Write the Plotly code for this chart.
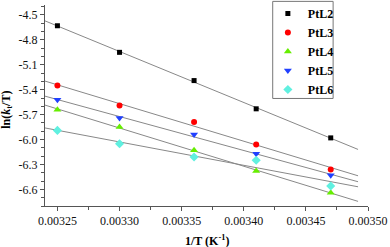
import numpy as np
import plotly.graph_objects as go

inv_T = [0.00325, 0.00330, 0.00336, 0.00341, 0.00347]
series_names = ["PtL2", "PtL3", "PtL4", "PtL5", "PtL6"]
ptl2 = [-4.63, -4.95, -5.29, -5.63, -5.98]
ptl3 = [-5.35, -5.59, -5.79, -6.06, -6.36]
ptl4 = [-5.64, -5.85, -6.13, -6.38, -6.64]
ptl5 = [-5.52, -5.74, -5.94, -6.17, -6.43]
ptl6 = [-5.89, -6.05, -6.21, -6.25, -6.56]
fit_range = [0.00324, 0.003492]

values = [ptl2, ptl3, ptl4, ptl5, ptl6]
colors = ["#000000", "#ff0000", "#66ee00", "#2040ff", "#60f0e0"]
symbols = ["square", "circle", "triangle-up", "triangle-down", "diamond"]
sizes = [5, 6, 7, 7, 7]

fig = go.Figure()
for name, ys in zip(series_names, values):
    m, c = np.polyfit(inv_T, ys, 1)
    xs = np.array(fit_range)
    fig.add_trace(go.Scatter(x=xs, y=m * xs + c, mode="lines",
                             line=dict(color="#888888", width=1),
                             showlegend=False, hoverinfo="skip"))
for name, ys, col, sym, sz in zip(series_names, values, colors, symbols, sizes):
    fig.add_trace(go.Scatter(x=inv_T, y=ys, mode="markers", name=name,
                             marker=dict(color=col, symbol=sym, size=sz, line=dict(width=0))))

serif = "Liberation Serif"
fig.update_layout(
    width=390, height=247,
    margin=dict(l=45, r=22, t=5, b=41, autoexpand=False),
    plot_bgcolor="white", paper_bgcolor="white",
    font=dict(family=serif, size=12, color="#111"),
    showlegend=True,
    legend=dict(x=0.69, y=1.03, xanchor="left", yanchor="top",
                bgcolor="rgba(0,0,0,0)", borderwidth=0,
                font=dict(family=serif, size=12, color="#000", weight="bold"),
                itemsizing="trace", itemwidth=30, tracegroupgap=0),
    shapes=[dict(type="rect", xref="paper", yref="paper",
                 x0=0.705, x1=0.892, y0=0.535, y1=1.018,
                 line=dict(color="#777", width=1))],
    annotations=[
        dict(text="<b>1/T (K<sup>-1</sup>)</b>", xref="paper", yref="paper", x=0.5, y=-0.17,
             xanchor="center", yanchor="middle", showarrow=False,
             font=dict(family=serif, size=12, color="#000")),
        dict(text="<b>ln(<i>k</i><sub>t</sub>/T)</b>", xref="paper", yref="paper", x=-0.12, y=0.48,
             xanchor="center", yanchor="middle", showarrow=False, textangle=-90,
             font=dict(family=serif, size=12, color="#000")),
    ],
)
fig.update_xaxes(range=[0.00324, 0.00350], tickvals=[0.00325, 0.00330, 0.00335, 0.00340, 0.00345, 0.00350],
                 ticktext=["0.00325", "0.00330", "0.00335", "0.00340", "0.00345", "0.00350"],
                 automargin=False,
                 showgrid=False, zeroline=False, showline=True, linecolor="#555", linewidth=1,
                 ticks="outside", ticklen=4, tickcolor="#555",
                 minor=dict(tickvals=[0.003275, 0.003325, 0.003375, 0.003425, 0.003475], ticks="outside", ticklen=3, tickcolor="#555"))
fig.update_yaxes(range=[-6.8, -4.38], tickvals=[-4.5, -4.8, -5.1, -5.4, -5.7, -6.0, -6.3, -6.6],
                 ticktext=["-4.5", "-4.8", "-5.1", "-5.4", "-5.7", "-6.0", "-6.3", "-6.6"],
                 automargin=False,
                 showgrid=False, zeroline=False, showline=True, linecolor="#555", linewidth=1,
                 ticks="outside", ticklen=4, tickcolor="#555",
                 minor=dict(dtick=0.1, tick0=-4.5, ticks="outside", ticklen=3, tickcolor="#555"))
fig.write_html("out.html", config={"displayModeBar": False},
               post_script="document.body.style.margin='0';")
